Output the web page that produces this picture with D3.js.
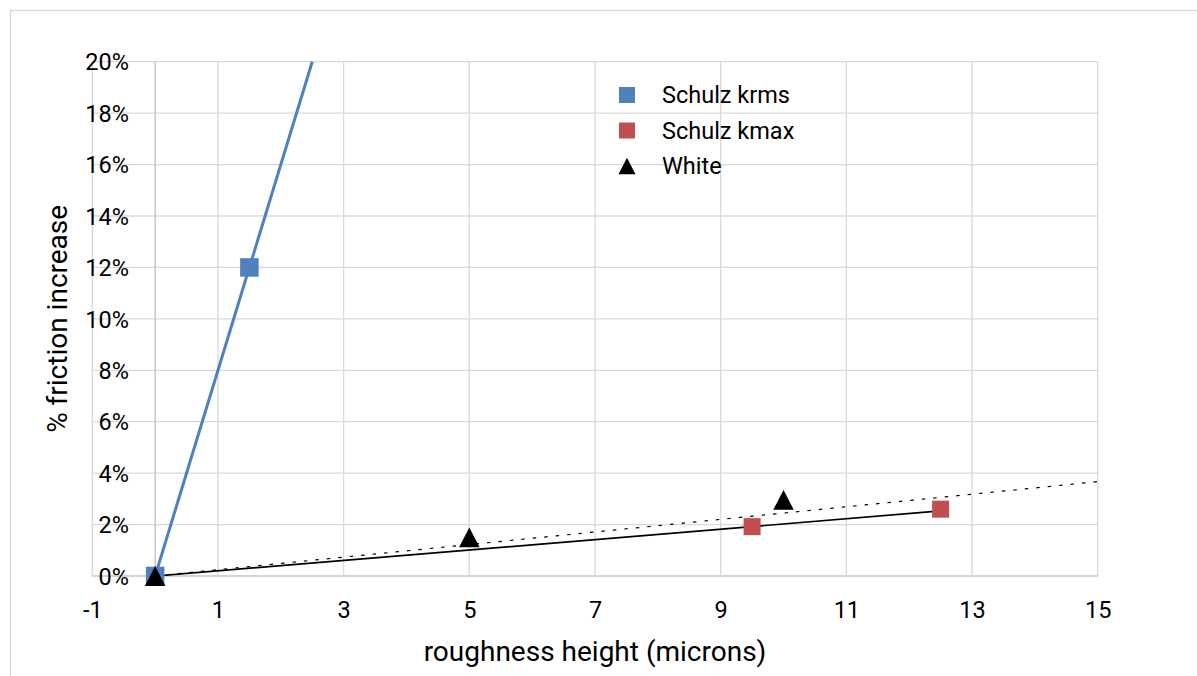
<!DOCTYPE html>
<html>
<head>
<meta charset="utf-8">
<script src="https://cdn.jsdelivr.net/npm/d3@7"></script>
<style>
  html, body { margin: 0; padding: 0; background: #fff; }
  svg { display: block; font-family: Roboto, "Open Sans", sans-serif; }
</style>
</head>
<body>
<svg id="chart" width="1197" height="676"></svg>
<script>
// ---- data ----
const xTicks = [-1, 1, 3, 5, 7, 9, 11, 13, 15];
const yTicks = [0, 0.02, 0.04, 0.06, 0.08, 0.10, 0.12, 0.14, 0.16, 0.18, 0.20];
const seriesNames = ["Schulz krms", "Schulz kmax", "White"];
const krmsX = [0, 1.5];
const krmsY = [0, 0.12];
const kmaxX = [9.5, 12.5];
const kmaxY = [0.0192, 0.026];
const whiteX = [0, 5, 10];
const whiteY = [0, 0.015, 0.0296];
// trend lines (endpoints)
const krmsFitX = [0, 2.5];
const krmsFitY = [0, 0.20];
const kmaxFitX = [0, 12.5];
const kmaxFitY = [0, 0.0253];
const whiteFitX = [0, 15];
const whiteFitY = [0, 0.0367];
const xTitle = "roughness height (microns)";
const yTitle = "% friction increase";

// ---- layout ----
const svg = d3.select("#chart");
const W = 1197, H = 676;
const pL = 92.3, pR = 1097.7, pT = 61.7, pB = 576;
const x = d3.scaleLinear().domain([-1, 15]).range([pL, pR]);
const y = d3.scaleLinear().domain([0, 0.20]).range([pB, pT]);
const blue = "#4F81BD", red = "#C0504D";

// chart border
svg.append("rect").attr("x", 10.5).attr("y", 10.5).attr("width", W + 20).attr("height", H + 20)
  .attr("fill", "#fff").attr("stroke", "#d9d9d9").attr("stroke-width", 1.3);

svg.append("clipPath").attr("id", "plotclip").append("rect")
  .attr("x", pL).attr("y", pT - 1).attr("width", pR - pL).attr("height", pB - pT + 1);

// gridlines
const grid = svg.append("g");
grid.selectAll("line.h").data(yTicks).join("line")
  .attr("x1", pL).attr("x2", pR).attr("y1", d => y(d)).attr("y2", d => y(d))
  .attr("stroke", "#d9d9d9").attr("stroke-width", 1.3);
grid.selectAll("line.v").data(xTicks).join("line")
  .attr("x1", d => x(d)).attr("x2", d => x(d)).attr("y1", pT).attr("y2", pB)
  .attr("stroke", "#d9d9d9").attr("stroke-width", 1.3);
// axis lines
grid.append("line").attr("x1", x(0)).attr("x2", x(0)).attr("y1", pT).attr("y2", pB)
  .attr("stroke", "#bfbfbf").attr("stroke-width", 1.3);
grid.append("line").attr("x1", pL).attr("x2", pR).attr("y1", y(0)).attr("y2", y(0))
  .attr("stroke", "#cfcfcf").attr("stroke-width", 1.3);

// axes via d3 (labels only)
const yAxis = svg.append("g").attr("transform", `translate(${pL},0)`)
  .call(d3.axisLeft(y).tickValues(yTicks).tickFormat(d => Math.round(d * 100) + "%").tickSize(0).tickPadding(0));
yAxis.select(".domain").remove();
yAxis.selectAll("text").attr("x", 129 - pL).attr("font-size", 23.5).attr("fill", "#000")
  .attr("font-family", "Roboto").attr("dy", "0.35em");

const xAxis = svg.append("g").attr("transform", `translate(0,${pB})`)
  .call(d3.axisBottom(x).tickValues(xTicks).tickFormat(d => String(d)).tickSize(0).tickPadding(0));
xAxis.select(".domain").remove();
xAxis.selectAll("text").attr("y", 34).attr("dy", "0.35em").attr("font-size", 23.5).attr("fill", "#000")
  .attr("font-family", "Roboto");

// axis titles
svg.append("text").attr("x", (pL + pR) / 2).attr("y", 661).attr("text-anchor", "middle")
  .attr("font-size", 28).attr("fill", "#000").text(xTitle);
svg.append("text").attr("transform", `translate(67,${(pT + pB) / 2}) rotate(-90)`)
  .attr("text-anchor", "middle").attr("font-size", 28).attr("fill", "#000").text(yTitle);

const plot = svg.append("g").attr("clip-path", "url(#plotclip)");
const line = d3.line().x(d => x(d[0])).y(d => y(d[1]));
const zip = (a, b) => a.map((v, i) => [v, b[i]]);

// blue trend
plot.append("path").datum(zip(krmsFitX, krmsFitY)).attr("d", line)
  .attr("fill", "none").attr("stroke", blue).attr("stroke-width", 3);

const markers = svg.append("g");
const sq = (g, data, size, color) => g.selectAll(null).data(data).join("rect")
  .attr("x", d => x(d[0]) - size / 2).attr("y", d => y(d[1]) - size / 2)
  .attr("width", size).attr("height", size).attr("fill", color);
sq(markers, zip(krmsX, krmsY), 18.5, blue);
sq(markers, zip(kmaxX, kmaxY), 17, red);
function triPath(w) {
  const h = w * 0.97;
  return `M0,${-h / 2}L${w / 2},${h / 2}L${-w / 2},${h / 2}Z`;
}
markers.selectAll(null).data(zip(whiteX, whiteY)).join("path")
  .attr("transform", d => `translate(${x(d[0])},${y(d[1])})`)
  .attr("d", triPath(20.5)).attr("fill", "#000");

// black trend lines
plot.append("path").datum(zip(kmaxFitX, kmaxFitY)).attr("d", line)
  .attr("fill", "none").attr("stroke", "#000").attr("stroke-width", 1.7);
plot.append("path").datum(zip(whiteFitX, whiteFitY)).attr("d", line)
  .attr("fill", "none").attr("stroke", "#000").attr("stroke-width", 1.2)
  .attr("stroke-dasharray", "3.5,8");

// legend
const legend = svg.append("g");
const lgItems = [
  { name: seriesNames[0], type: "sq", color: blue },
  { name: seriesNames[1], type: "sq", color: red },
  { name: seriesNames[2], type: "tri", color: "#000" }
];
lgItems.forEach((it, i) => {
  const cy = 95 + i * 35.5;
  if (it.type === "sq") {
    legend.append("rect").attr("x", 627 - 8).attr("y", cy - 8).attr("width", 16).attr("height", 16)
      .attr("fill", it.color);
  } else {
    legend.append("path").attr("transform", `translate(627,${cy})`).attr("d", triPath(17)).attr("fill", it.color);
  }
  legend.append("text").attr("x", 662).attr("y", cy).attr("dy", "0.35em")
    .attr("font-size", 23.5).attr("fill", "#000").text(it.name);
});
</script>
</body>
</html>
